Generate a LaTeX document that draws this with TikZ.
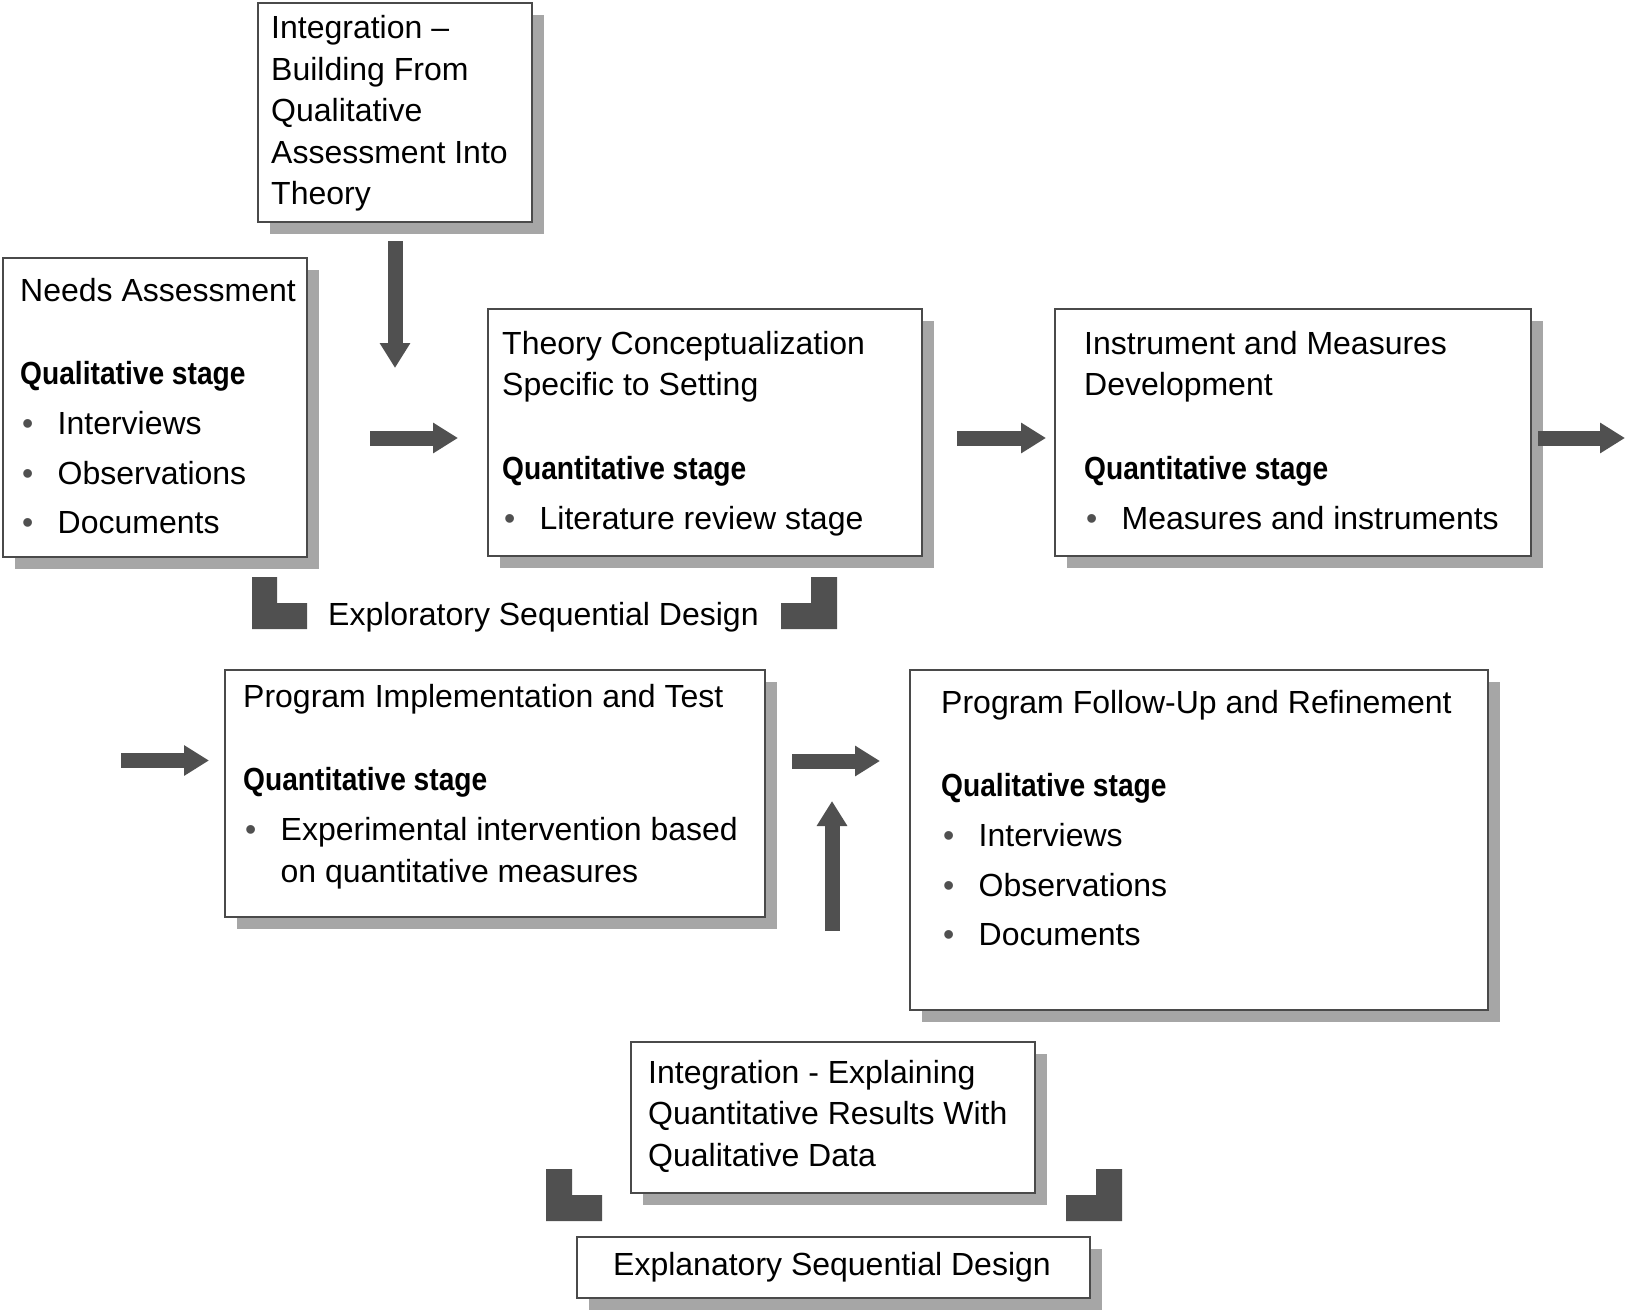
\documentclass[tikz,border=0pt]{standalone}
\usepackage{fontspec}
\setmainfont{Liberation Sans}
\newfontfamily\stagefont[FakeStretch=0.88]{Liberation Sans}
\usetikzlibrary{arrows.meta,shadows}

\definecolor{arrowgray}{HTML}{505050}
\definecolor{shadowgray}{HTML}{A6A6A6}
\definecolor{framegray}{HTML}{4A4A4A}

\newcommand{\stage}[1]{{\stagefont\bfseries #1}}
\newcommand{\bul}{\makebox[37.5pt][l]{\hspace{2pt}\textcolor{arrowgray}{\textbullet}}}

\tikzset{
  box/.style={draw=framegray, line width=1.8pt, fill=white, anchor=north west, inner sep=0pt,
    drop shadow={shadow xshift=12pt, shadow yshift=-12pt, fill=shadowgray, opacity=1}},
  txt/.style={anchor=north west, align=left, inner sep=0pt, font=\fontsize{32}{41.5}\selectfont},
  fat/.style={draw=arrowgray, line width=15pt, -{Triangle[length=25pt,width=29pt]}},
  bracket/.style={fill=arrowgray}
}

\begin{document}
\begin{tikzpicture}[x=1pt,y=-1pt]

	\useasboundingbox (0,0) rectangle (1627,1311);

	\node[box, minimum width=274pt, minimum height=219pt] (integA) at (257,2) {};
	\node[box, minimum width=304pt, minimum height=299pt] (needs) at (2,257) {};
	\node[box, minimum width=434pt, minimum height=247pt] (theory) at (487,308) {};
	\node[box, minimum width=476pt, minimum height=247pt] (instr) at (1054,308) {};
	\node[box, minimum width=540pt, minimum height=247pt] (impl) at (224,669) {};
	\node[box, minimum width=578pt, minimum height=340pt] (follow) at (909,669) {};
	\node[box, minimum width=404pt, minimum height=151pt] (integB) at (630,1041) {};
	\node[box, minimum width=513pt, minimum height=61pt] (explan) at (576,1236) {};

	\node[txt] (integA-t) at (271,15.5) {Integration --\\Building From\\Qualitative\\Assessment Into\\Theory};
	\node[txt] (needs-t) at (20,277.7) {Needs Assessment\\[42pt]\stage{Qualitative stage}\\[8.5pt]\bul Interviews\\[8pt]\bul Observations\\[8pt]\bul Documents};
	\node[txt] (theory-t) at (502,331) {Theory Conceptualization\\Specific to Setting\\[42pt]\stage{Quantitative stage}\\[8.5pt]\bul Literature review stage};
	\node[txt] (instr-t) at (1084,331) {Instrument and Measures\\Development\\[42pt]\stage{Quantitative stage}\\[8.5pt]\bul Measures and instruments};
	\node[txt] (impl-t) at (243,683.7) {Program Implementation and Test\\[42pt]\stage{Quantitative stage}\\[8.5pt]\bul Experimental intervention based\\\hspace*{37.5pt}on quantitative measures};
	\node[txt] (follow-t) at (941,690) {Program Follow-Up and Refinement\\[42pt]\stage{Qualitative stage}\\[8.5pt]\bul Interviews\\[8pt]\bul Observations\\[8pt]\bul Documents};
	\node[txt] (integB-t) at (648,1060) {Integration - Explaining\\Quantitative Results With\\Qualitative Data};
	\node[txt, anchor=base] (explan-t) at (832,1275) {Explanatory Sequential Design};
	\node[txt, anchor=base west] (explo-t) at (328,625) {Exploratory Sequential Design};

	\coordinate (dA) at (395,241);
	\coordinate (dB) at (395,368);
	\coordinate (hA) at (370,438);
	\coordinate (hB) at (458,438);
	\coordinate (hC) at (957,438);
	\coordinate (hD) at (1046,438);
	\coordinate (hE) at (1538,438);
	\coordinate (hF) at (1625,438);
	\coordinate (hG) at (121,760.5);
	\coordinate (hH) at (209,760.5);
	\coordinate (hI) at (792,761);
	\coordinate (hJ) at (880,761);
	\coordinate (uA) at (832,931);
	\coordinate (uB) at (832,801);

	\draw[fat] (dA) -- (dB);
	\draw[fat] (hA) -- (hB);
	\draw[fat] (hC) -- (hD);
	\draw[fat] (hE) -- (hF);
	\draw[fat] (hG) -- (hH);
	\draw[fat] (hI) -- (hJ);
	\draw[fat] (uA) -- (uB);

	\fill[bracket] (252,577) -- (277,577) -- (277,603) -- (307,603) -- (307,629) -- (252,629) -- cycle;
	\fill[bracket] (837,577) -- (811,577) -- (811,603) -- (781,603) -- (781,629) -- (837,629) -- cycle;
	\fill[bracket] (546,1169) -- (572,1169) -- (572,1195) -- (602,1195) -- (602,1221) -- (546,1221) -- cycle;
	\fill[bracket] (1122,1169) -- (1096,1169) -- (1096,1195) -- (1066,1195) -- (1066,1221) -- (1122,1221) -- cycle;

\end{tikzpicture}
\end{document}
